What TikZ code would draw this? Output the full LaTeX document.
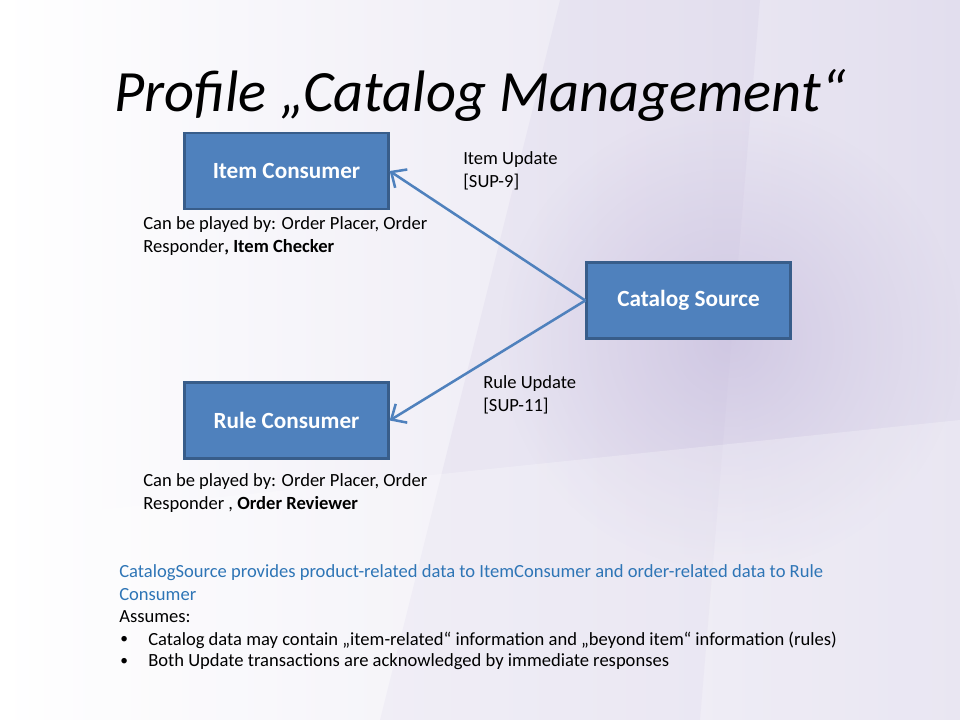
\documentclass[tikz,border=0pt]{standalone}
\usepackage{fontspec}
\setmainfont{Carlito}
\usetikzlibrary{arrows.meta,positioning,fadings}
\definecolor{boxfill}{HTML}{4F81BD}
\definecolor{boxline}{HTML}{385D8A}
\definecolor{lavender}{HTML}{E2DEEE}
\definecolor{deeplav}{HTML}{CBC2E0}
\definecolor{blurb}{HTML}{2E75B6}
\tikzfading[name=softblob, inner color=transparent!0, outer color=transparent!100]
\tikzset{
  role/.style={draw=boxline, line width=1.6pt, fill=boxfill, text=white,
    minimum width=5.1cm, minimum height=1.9cm, font=\fontsize{16.5}{20}\selectfont\bfseries},
  msg/.style={anchor=west, inner sep=0pt, align=left, font=\fontsize{13.2}{16.3}\selectfont},
  flow/.style={draw=boxfill, line width=1.8pt, -{Straight Barb[length=3mm,width=5.5mm,line width=1.8pt]}}
}
\begin{document}
\begin{tikzpicture}[x=0.025cm, y=-0.025cm]
\useasboundingbox (0,0) rectangle (960,720);
\shade[left color=white, right color=lavender] (0,0) rectangle (960,720);
\fill[deeplav, opacity=0.18] (560,0) -- (760,0) -- (700,720) -- (380,720) -- cycle;
\fill[deeplav, opacity=0.8, path fading=softblob] (730,340) circle (230);
\fill[white, opacity=0.25] (0,720) -- (0,520) -- (960,420) -- (960,720) -- cycle;
\node[anchor=base, inner sep=0pt, font=\fontsize{41.6}{48}\selectfont\itshape] (title) at (480,112) {Profile „Catalog Management“};
\node[role] (item) at (286.5,171) {Item Consumer};
\node[role] (rule) at (286.5,420.5) {Rule Consumer};
\node[role] (source) at (688.5,300.5) {Catalog Source};
\draw[flow] (source.west) -- (item.east);
\draw[flow] (source.west) -- (rule.east);
\node[msg] (itemupd) at (463,171) {Item Update\\{}[SUP-9]};
\node[msg] (ruleupd) at (483,395) {Rule Update\\{}[SUP-11]};
\node[msg] (itemplay) at (143,236) {Can be played by: Order Placer, Order\\Responder\textbf{, Item Checker}};
\node[msg] (ruleplay) at (143,493) {Can be played by: Order Placer, Order\\Responder , \textbf{Order Reviewer}};
\node[msg, text=blurb] (summary) at (119,583) {CatalogSource provides product-related data to ItemConsumer and order-related data to Rule\\Consumer};
\node[msg] (assumes) at (119,617) {Assumes:};
\node[msg, font=\fontsize{11}{13}\selectfont] (dot1) at (120,640) {•};
\node[msg] (bullet1) at (148,640) {Catalog data may contain „item-related“ information and „beyond item“ information (rules)};
\node[msg, font=\fontsize{11}{13}\selectfont] (dot2) at (120,662) {•};
\node[msg] (bullet2) at (148,662) {Both Update transactions are acknowledged by immediate responses};
\end{tikzpicture}
\end{document}
